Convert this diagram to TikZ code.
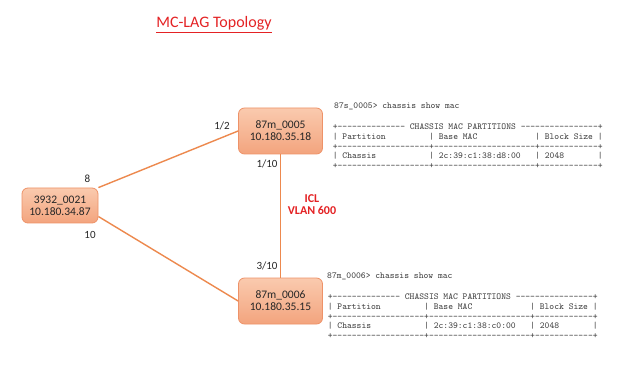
\documentclass[tikz,border=0pt]{standalone}
\usepackage{fontspec}
\setmainfont{Carlito}
\definecolor{boxtop}{RGB}{250,202,174}
\definecolor{boxbot}{RGB}{243,164,126}
\definecolor{boxedge}{RGB}{238,146,104}
\definecolor{linkc}{RGB}{237,137,78}
\definecolor{redc}{RGB}{228,34,36}
\definecolor{txt}{RGB}{38,38,38}
\newcommand\tdash[1]{\foreach\i in {1,...,#1}{-}}
\newcommand\tspace[1]{\foreach\i in {1,...,#1}{\ }}
\begin{document}
\begin{tikzpicture}[x=1pt,y=-1pt,
  dev/.style={draw=boxedge, line width=0.8pt, rounded corners=6pt, top color=boxtop, bottom color=boxbot, align=center, inner sep=0pt, text=txt, font=\fontsize{11.5}{12}\selectfont},
  link/.style={draw=linkc, line width=1.4pt},
  port/.style={inner sep=0pt, text=txt, font=\fontsize{11}{13}\selectfont},
  term/.style={anchor=base west, inner sep=0pt, text=black!75, font=\ttfamily\fontsize{9.18}{9.6}\selectfont},
  icllab/.style={align=center, inner sep=0pt, text=redc, font=\bfseries\fontsize{12}{12}\selectfont},
  ttl/.style={anchor=base, inner sep=0pt, text=redc, font=\fontsize{16}{19}\selectfont}]
\fill[white] (0,0) rectangle (624,374);
\useasboundingbox (0,0) rectangle (624,374);

\node[ttl] (title) at (214,28) {\underline{MC-LAG Topology}};

\node[dev, minimum width=76pt, minimum height=35pt] (sw) at (60,205.5) {3932\_0021\\10.180.34.87};
\node[dev, minimum width=84pt, minimum height=46pt] (m5) at (280.5,131) {87m\_0005\\10.180.35.18};
\node[dev, minimum width=84pt, minimum height=46pt] (m6) at (280.5,301) {87m\_0006\\10.180.35.15};

\draw[link] (sw.north east) -- (m5.west);
\draw[link] (sw.-16) -- (m6.west);
\draw[link] (m5.south) -- (m6.north);

\node[port] (p8) at (87.3,178.5) {8};
\node[port] (p10) at (90,235) {10};
\node[port] (p12) at (222,126) {1/2};
\node[port] (p110) at (267,164) {1/10};
\node[port] (p310) at (267,266) {3/10};

\node[icllab] (icl) at (312,205) {ICL\\VLAN 600};

% top terminal output
\node[term] (c5) at (334,109) {87s\_0005>~chassis~show~mac};
\node[term] (h5) at (332.6,130) {+\tdash{14}~CHASSIS~MAC~PARTITIONS~\tdash{16}+};
\node[term] (r5a) at (332.6,139.6) {|~Partition\tspace{9}|~Base~MAC\tspace{12}|~Block~Size~|};
\node[term] (s5a) at (332.6,149.2) {+\tdash{19}+\tdash{21}+\tdash{12}+};
\node[term] (r5b) at (332.6,158.8) {|~Chassis\tspace{11}|~2c:39:c1:38:d8:00\tspace{3}|~2048\tspace{7}|};
\node[term] (s5b) at (332.6,168.4) {+\tdash{19}+\tdash{21}+\tdash{12}+};

% bottom terminal output
\node[term] (c6) at (327,279) {87m\_0006>~chassis~show~mac};
\node[term] (h6) at (327.6,299.6) {+\tdash{14}~CHASSIS~MAC~PARTITIONS~\tdash{16}+};
\node[term] (r6a) at (327.6,309.3) {|~Partition\tspace{9}|~Base~MAC\tspace{12}|~Block~Size~|};
\node[term] (s6a) at (327.6,319) {+\tdash{19}+\tdash{21}+\tdash{12}+};
\node[term] (r6b) at (327.6,328.7) {|~Chassis\tspace{11}|~2c:39:c1:38:c0:00\tspace{3}|~2048\tspace{7}|};
\node[term] (s6b) at (327.6,338.4) {+\tdash{19}+\tdash{21}+\tdash{12}+};
\end{tikzpicture}
\end{document}
